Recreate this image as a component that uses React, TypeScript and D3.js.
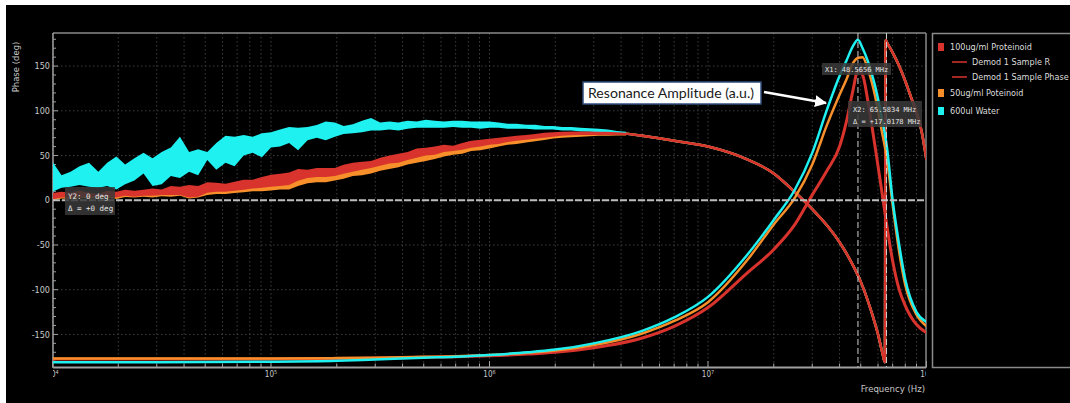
import React from "react";
import * as d3 from "d3";

// sweep points for the noisy low-frequency phase traces (Hz)
const lowHz = [
  1.0e4, 1.1e4, 1.21e4, 1.33e4, 1.47e4, 1.62e4, 1.78e4, 1.96e4, 2.15e4, 2.37e4, 2.61e4, 2.87e4,
  3.16e4, 3.48e4, 3.83e4, 4.22e4, 4.64e4, 5.11e4, 5.62e4, 6.19e4, 6.81e4, 7.5e4, 8.25e4, 9.09e4,
  1.0e5, 1.1e5, 1.21e5, 1.33e5, 1.47e5, 1.62e5, 1.78e5, 1.96e5, 2.15e5, 2.37e5, 2.61e5, 2.87e5,
  3.16e5, 3.48e5, 3.83e5, 4.22e5, 4.64e5, 5.11e5, 5.62e5, 6.19e5, 6.81e5, 7.5e5, 8.25e5, 9.09e5,
  1.0e6, 1.1e6, 1.21e6, 1.33e6, 1.47e6, 1.62e6, 1.78e6, 1.96e6, 2.15e6, 2.37e6, 2.61e6, 2.87e6,
  3.16e6, 3.48e6, 3.83e6, 4.22e6,
];

// phase (deg), upper / lower edge of each noisy trace
const waterHi = [
  43, 28, 32, 38, 42, 32, 42, 49, 40, 47, 53, 47, 54, 59, 71, 54, 57, 54, 64, 72, 71, 73, 71, 75,
  76, 79, 82, 81, 82, 84, 88, 87, 83, 85, 89, 92, 87, 88, 87, 89, 88, 90, 89, 88, 89, 89, 88, 88,
  88, 87, 85.5, 85.5, 84.5, 84.5, 83, 83, 82, 82, 81, 80.5, 80, 79, 77.5, 76.5,
];
const waterLo = [
  9.5, 14, 15, 17, 15, 14, 16, 12, 18, 22, 30, 16, 18, 27, 25, 32, 28, 45, 34, 42, 38, 50, 53, 48,
  59, 60, 64, 56, 67, 70, 67, 71, 74, 75, 76, 78, 78, 79, 78, 80, 81, 81, 81, 81, 82, 81, 81, 80,
  81, 81, 80, 80, 80, 79, 79, 79, 78, 78, 77, 76.5, 76, 75.5, 74.5, 73,
];
const p100Hi = [
  8, 9.5, 8.4, 10.6, 8.4, 7, 10.6, 9.5, 11.7, 10.6, 11.7, 13, 12, 16, 15, 17, 16, 20, 19.5, 18.5,
  20.7, 23, 23, 26, 28.5, 29.6, 31, 35, 34, 36, 36, 36, 39.7, 42, 43, 44, 47.5, 50, 52, 54, 58,
  58.7, 60, 62, 61, 64, 66.5, 67.7, 68.8, 70, 71, 72, 73, 74, 75.5, 76, 76.5, 77, 77, 77, 76.5,
  76.5, 76, 75.5,
];
const p100Lo = [
  1, 3, 3, 4, 3, 4, 4, 3, 5, 4, 5, 5, 6, 6, 6, 3, 4, 8.4, 9.5, 9.5, 10.6, 11.7, 13, 14, 15, 16,
  17, 21.8, 25, 26, 26, 27, 29.6, 32, 34, 36, 38.6, 41, 42, 45, 47.5, 50, 51, 54, 55, 56.5, 58.7,
  60, 62, 63, 65, 66.5, 67.7, 68.8, 70, 71, 72, 72.7, 73, 73, 73, 73, 73, 72.7,
];
const p50Hi = [
  5, 6, 6, 7, 6, 7, 7, 6, 8, 7, 8, 8, 9, 10, 10, 9, 9, 12, 13, 13, 14, 16, 17, 18, 20, 21, 22,
  25, 28, 30, 30, 32, 34, 36, 38, 40, 42, 45, 46, 49, 51, 53, 55, 57, 58, 60, 62, 63, 65, 66, 68,
  69, 70, 71, 72, 73, 74, 74.5, 75, 75, 75, 75, 75, 74.5,
];
const p50Lo = [
  0, 2, 1.5, 3, 2, 2.5, 3, 1.5, 3.5, 3, 4, 3, 4.5, 4, 5, 2, 3, 6, 7, 7, 8, 9, 10, 10, 11, 12, 12,
  16, 19, 20, 20, 22, 24, 27, 28, 30, 33, 35, 37, 40, 42, 44, 46, 49, 51, 52, 55, 56, 58, 60, 62,
  63, 64.5, 66, 67.5, 69, 70, 70.5, 71, 71.5, 72, 72, 72.5, 72.5,
];

// smooth phase above 4 MHz (shared by the three samples), wraps at -180
const tailHz = [
  4.22e6, 5e6, 7e6, 1e7, 1.5e7, 2e7, 2.5e7, 3e7, 3.5e7, 4e7, 4.5e7, 5e7, 5.5e7, 6e7, 6.3e7,
  6.45e7, 6.5e7, 6.6e7, 7e7, 7.5e7, 8e7, 8.5e7, 9e7, 9.5e7, 1e8,
];
const tailPhase = [
  74.5, 72, 66.5, 60, 46, 30, 9, -10, -28, -47, -68, -91, -119, -150, -172, -181, 179, 176, 165,
  150, 133, 115, 98, 77, 45,
];

// resonance amplitude (a.u., drawn on the phase scale)
const ampHz = [
  1e4, 3e4, 1e5, 2e5, 3e5, 5e5, 7e5, 1e6, 1.5e6, 2e6, 3e6, 5e6, 7e6, 1e7, 1.5e7, 2e7, 2.5e7, 3e7,
  3.5e7, 4e7, 4.3e7, 4.6e7, 4.85e7, 5.1e7, 5.4e7, 5.8e7, 6.2e7, 6.6e7, 7e7, 7.5e7, 8e7, 9e7, 1e8,
];
const waterAmp = [
  -181, -181, -180.5, -179.5, -178, -176, -175, -173, -170, -167, -160, -146, -131, -108, -62,
  -22, 12, 53, 101, 139, 156, 172, 179.5, 170, 155, 129, 96, 58, 0, -50, -89, -125, -136,
];
const p50Amp = [
  -177, -177, -177, -176.5, -176, -175, -174.5, -173, -170.5, -168, -162, -149, -135, -114, -68,
  -27, 3, 40, 84, 118, 135, 153, 159, 160, 146, 118, 81, 45, -5, -58, -95, -128, -141,
];
const p100Amp = [
  -177.5, -177.5, -177.5, -177, -176.5, -175.5, -175, -174, -172, -170, -165, -154, -141, -120,
  -82, -55, -27, 6, 33, 60, 88, 122, 145, 140, 110, 62, 15, -30, -68, -100, -118, -139, -148,
];

const cursorX1 = 48.5656e6;
const cursorX2 = 65.5834e6;
const yTicks = [150, 100, 50, 0, -50, -100, -150];
const decades = [4, 5, 6, 7, 8];

const CYAN = "#1ff1f1";
const ORANGE = "#f7902a";
const RED = "#d8332c";
const narrow = "'Liberation Sans Narrow', 'DejaVu Sans Condensed', sans-serif";
const mono = "'DejaVu Sans Mono', monospace";

export default function App() {
  const x = d3.scaleLog().domain([1e4, 1e8]).range([52.5, 926.5]);
  const y = d3.scaleLinear().domain([-187, 187]).range([367.5, 33]);

  const band = (hi: number[], lo: number[]) =>
    d3
      .area<number>()
      .x((f) => x(f))
      .y0((_, i) => y(lo[i]))
      .y1((_, i) => y(hi[i]))(lowHz) || "";
  const line = (hz: number[], vals: number[]) =>
    d3
      .line<number>()
      .x((f) => x(f))
      .y((_, i) => y(vals[i]))
      .curve(d3.curveMonotoneX)(hz) || "";
  const tail = line(tailHz, tailPhase);

  const gridX: number[] = [];
  for (let d = 4; d < 8; d++) for (let m = 1; m <= 9; m++) gridX.push(m * Math.pow(10, d));
  const minorY = d3.range(-180, 181, 10);

  return (
    <div style={{ position: "absolute", left: 0, top: 0 }}>
      <svg width={1070} height={403} style={{ display: "block" }}>
        <defs>
          <clipPath id="plot">
            <rect x={53} y={33} width={873} height={335} />
          </clipPath>
          <clipPath id="xlab">
            <rect x={53} y={368} width={873} height={20} />
          </clipPath>
          <marker id="arr" markerUnits="userSpaceOnUse" markerWidth={14} markerHeight={12}
            refX={11} refY={6} orient="auto">
            <path d="M0,0 L12,6 L0,12 Z" fill="#fff" />
          </marker>
        </defs>
        <rect width={1070} height={403} fill="#fff" />
        <rect x={6} y={5} width={1064} height={398} fill="#000" />

        {/* grid */}
        {gridX.map((f, i) => (
          <line key={"gx" + i} x1={x(f)} x2={x(f)} y1={33} y2={367} stroke="#3e3e3e"
            strokeWidth={1} strokeDasharray="1.5,2.5" />
        ))}
        {yTicks.map((v) => (
          <line key={"gy" + v} x1={53} x2={926} y1={y(v)} y2={y(v)} stroke="#3e3e3e"
            strokeWidth={1} strokeDasharray="1.5,2.5" />
        ))}

        {/* frame */}
        <line x1={53} x2={926} y1={33} y2={33} stroke="#8a8a8a" strokeWidth={1.5} />
        <line x1={926} x2={926} y1={33} y2={368} stroke="#8a8a8a" strokeWidth={1.5} />
        <line x1={53} x2={53} y1={33} y2={368} stroke="#a0a0a0" strokeWidth={1.5} />
        <line x1={53} x2={926} y1={367.5} y2={367.5} stroke="#a0a0a0" strokeWidth={2} />
        {minorY.map((v) => (
          <line key={"ty" + v} x1={53} x2={v % 50 === 0 ? 58 : 56} y1={y(v)} y2={y(v)}
            stroke="#a0a0a0" strokeWidth={1} />
        ))}
        {gridX.concat([1e8]).map((f, i) => (
          <line key={"tx" + i} x1={x(f)} x2={x(f)} y1={367} y2={i % 9 === 0 ? 361 : 363.5}
            stroke="#a0a0a0" strokeWidth={1} />
        ))}

        {/* traces */}
        <g clipPath="url(#plot)">
          <path d={band(waterHi, waterLo)} fill={CYAN} />
          <path d={band(p50Hi, p50Lo)} fill={ORANGE} />
          <path d={band(p100Hi, p100Lo)} fill={RED} />
          <path d={tail} fill="none" stroke={CYAN} strokeWidth={2.5} />
          <path d={tail} fill="none" stroke={ORANGE} strokeWidth={2.5} />
          <path d={tail} fill="none" stroke={RED} strokeWidth={2.5} />
          <path d={line(ampHz, p100Amp)} fill="none" stroke={RED} strokeWidth={3} />
          <path d={line(ampHz, p50Amp)} fill="none" stroke={ORANGE} strokeWidth={2.5} />
          <path d={line(ampHz, waterAmp)} fill="none" stroke={CYAN} strokeWidth={2.5} />
        </g>

        {/* cursors */}
        <line x1={53} x2={926} y1={y(0)} y2={y(0)} stroke="#bdbdbd" strokeWidth={2}
          strokeDasharray="7,2" />
        <line x1={x(cursorX1)} x2={x(cursorX1)} y1={33} y2={367} stroke="#cfcfcf"
          strokeWidth={1} strokeDasharray="6,3" />
        <line x1={x(cursorX2)} x2={x(cursorX2)} y1={33} y2={367} stroke="#cfcfcf"
          strokeWidth={1} strokeDasharray="6,3" />

        {/* axes labels */}
        {yTicks.map((v) => (
          <text key={"ly" + v} x={50} y={y(v)} dy="0.35em" textAnchor="end" fontSize={9}
            fontFamily={narrow} fill="#c8c8c8">
            {v}
          </text>
        ))}
        <g clipPath="url(#xlab)">
          {decades.map((d) => (
            <text key={"lx" + d} x={x(Math.pow(10, d))} y={377} textAnchor="middle"
              fontSize={8} fontFamily={narrow} fill="#c8c8c8">
              10<tspan dy={-3} fontSize={5.5}>{d}</tspan>
            </text>
          ))}
        </g>
        <text x={925} y={392} textAnchor="end" fontSize={9.5} fontFamily={narrow} fill="#c8c8c8">
          Frequency (Hz)
        </text>
        <text transform="translate(19,67) rotate(-90)" textAnchor="middle" fontSize={8.5}
          fontFamily="'DejaVu Sans', sans-serif" fill="#c8c8c8">
          Phase (deg)
        </text>

        {/* cursor read-outs */}
        <rect x={822} y={63} width={69} height={12} fill="#3a3a3a" opacity={0.85} />
        <text x={825} y={72} fontSize={7} fontFamily={mono} fill="#e6e6e6">X1: 48.5656 MHz</text>
        <rect x={848} y={101} width={74} height={26} fill="#3a3a3a" opacity={0.85} />
        <text x={853} y={112} fontSize={7} fontFamily={mono} fill="#e6e6e6">X2: 65.5834 MHz</text>
        <text x={853} y={124} fontSize={7} fontFamily={mono} fill="#e6e6e6">Δ = +17.0178 MHz</text>
        <rect x={65} y={187} width={50} height={28} fill="#3a3a3a" opacity={0.85} />
        <text x={68} y={199} fontSize={7.5} fontFamily={mono} fill="#e6e6e6">Y2: 0 deg</text>
        <text x={68} y={211} fontSize={7.5} fontFamily={mono} fill="#e6e6e6">Δ = +0 deg</text>

        {/* annotation */}
        <rect x={583} y={82} width={178} height={22} fill="#fff" stroke="#2f4b7c" strokeWidth={1.5} />
        <text x={588} y={98} fontSize={13.5} fontFamily="Lato, 'Open Sans', sans-serif"
          fill="#1a1a1a" textLength={166} lengthAdjust="spacingAndGlyphs">
          Resonance Amplitude (a.u.)
        </text>
        <line x1={764} y1={92} x2={826} y2={103} stroke="#fff" strokeWidth={2.5}
          markerEnd="url(#arr)" />

        {/* legend */}
        <rect x={932.5} y={33.5} width={140} height={334} fill="none" stroke="#8a8a8a"
          strokeWidth={1.5} />
        <rect x={938} y={43} width={6} height={8} fill={RED} />
        <text x={950} y={50} fontSize={9} fontFamily={narrow} fill="#dcdcdc">100ug/ml Proteinoid</text>
        <line x1={952} x2={967} y1={62} y2={62} stroke={RED} strokeWidth={1.5} />
        <text x={972} y={65} fontSize={9} fontFamily={narrow} fill="#dcdcdc">Demod 1 Sample R</text>
        <line x1={952} x2={967} y1={77} y2={77} stroke={RED} strokeWidth={1.5} />
        <text x={972} y={80} fontSize={9} fontFamily={narrow} fill="#dcdcdc">Demod 1 Sample Phase</text>
        <rect x={938} y={89} width={6} height={8} fill={ORANGE} />
        <text x={950} y={96} fontSize={9} fontFamily={narrow} fill="#dcdcdc">50ug/ml Poteinoid</text>
        <rect x={938} y={107} width={6} height={8} fill={CYAN} />
        <text x={950} y={114} fontSize={9} fontFamily={narrow} fill="#dcdcdc">600ul Water</text>
      </svg>
    </div>
  );
}
